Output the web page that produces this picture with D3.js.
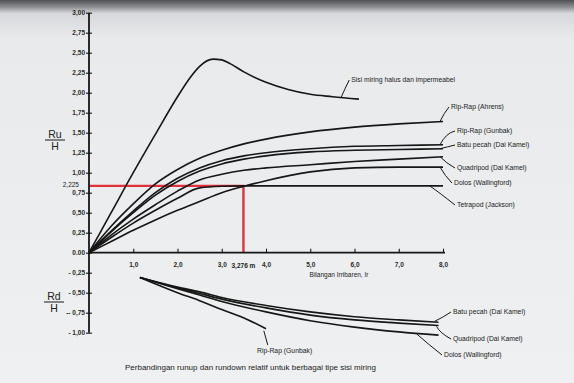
<!DOCTYPE html>
<html>
<head>
<meta charset="utf-8">
<script src="https://cdn.jsdelivr.net/npm/d3@7/dist/d3.min.js"></script>
<style>
  html, body { margin: 0; padding: 0; background: #eceef0; }
  svg { display: block; font-family: "Liberation Sans", Arial, sans-serif; }
</style>
</head>
<body>
<svg id="chart" width="574" height="383"></svg>
<script>
// Iribarren number (x) sample positions shared by the run-up curves
const irUp = [0, 0.5, 1, 1.5, 2, 2.5, 3, 3.5, 4, 5, 6, 7, 8];

// Relative run-up Ru/H for each slope type
const ruAhrens    = [0, 0.33, 0.61, 0.86, 1.04, 1.18, 1.28, 1.36, 1.42, 1.51, 1.57, 1.61, 1.64];
const ruGunbak    = [0, 0.27, 0.52, 0.75, 0.93, 1.06, 1.15, 1.21, 1.25, 1.30, 1.33, 1.34, 1.35];
const ruBatu      = [0, 0.26, 0.50, 0.72, 0.89, 1.02, 1.11, 1.17, 1.21, 1.26, 1.28, 1.29, 1.30];
const ruQuadripod = [0, 0.22, 0.42, 0.60, 0.77, 0.91, 0.98, 1.03, 1.06, 1.10, 1.14, 1.17, 1.20];
const ruTetrapod  = [0, 0.19, 0.37, 0.53, 0.68, 0.81, 0.83, 0.835, 0.835, 0.835, 0.835, 0.835, 0.835];
const ruDolos     = [0, 0.14, 0.28, 0.41, 0.53, 0.64, 0.75, 0.83, 0.90, 1.01, 1.06, 1.07, 1.07];

// Smooth impermeable slope
const irSmooth = [0, 0.5, 1, 1.5, 2, 2.3, 2.5, 2.8, 3.0, 3.2, 3.5, 4, 4.5, 5, 5.5, 6.1];
const ruSmooth = [0, 0.5, 1.0, 1.48, 1.95, 2.2, 2.33, 2.42, 2.41, 2.36, 2.26, 2.13, 2.04, 1.98, 1.95, 1.92];

// Relative run-down Rd/H
const irDown      = [1.15, 2, 2.5, 3, 4, 5, 6, 7, 7.9];
const rdBatu      = [-0.31, -0.43, -0.49, -0.56, -0.66, -0.74, -0.80, -0.84, -0.87];
const rdQuadripod = [-0.31, -0.44, -0.51, -0.58, -0.69, -0.78, -0.84, -0.88, -0.91];
const rdDolos     = [-0.31, -0.45, -0.53, -0.61, -0.74, -0.85, -0.93, -0.99, -1.03];
const irGunbakDown = [1.15, 2, 2.5, 3, 3.6, 4.0];
const rdGunbak     = [-0.31, -0.50, -0.60, -0.71, -0.84, -0.95];

// Reading guide (red)
const readIr = 3.49;
const readRu = 0.835;
const readIrLabel = "3,276 m";
const readRuLabel = "2,225";

// Axis ticks and labels
const yTicks = [-1, -0.75, -0.5, -0.25, 0, 0.25, 0.5, 0.75, 1, 1.25, 1.5, 1.75, 2, 2.25, 2.5, 2.75, 3];
const yTickLabels = ["- 1,00", "-- 0,75", "- 0,50", "- 0,25", "0.00", "0,25", "0,50", "0,75", "1,00", "1,25", "1,50", "1,75", "2,00", "2,25", "2,50", "2,75", "3,00"];
const xTicks = [1, 2, 3, 4, 5, 6, 7, 8];
const xTickLabels = ["1,0", "2,0", "3,0", "4,0", "5,0", "6,0", "7,0", "8,0"];

const svg = d3.select("#chart");

// paper background with a darker photographed top edge
const defs = svg.append("defs");
const bg = defs.append("linearGradient").attr("id", "paper").attr("x1", 0).attr("y1", 0).attr("x2", 0).attr("y2", 1);
bg.append("stop").attr("offset", 0).attr("stop-color", "#4e5054");
bg.append("stop").attr("offset", 0.018).attr("stop-color", "#8c8e92");
bg.append("stop").attr("offset", 0.035).attr("stop-color", "#d6d8db");
bg.append("stop").attr("offset", 0.1).attr("stop-color", "#e8eaec");
bg.append("stop").attr("offset", 1).attr("stop-color", "#eef0f1");
svg.append("rect").attr("width", 574).attr("height", 383).attr("fill", "url(#paper)");

const x = d3.scaleLinear().domain([0, 8]).range([89, 443]);
const y = d3.scaleLinear().domain([-1, 3]).range([332.7, 12.7]);

const ink = "#161616";
const line = d3.line().x(d => x(d[0])).y(d => y(d[1])).curve(d3.curveMonotoneX);
const zip = (xs, ys) => xs.map((v, i) => [v, ys[i]]);

// reading guide lines
svg.append("path")
  .attr("d", `M${x(0)},${y(readRu)}H${x(readIr)}V${y(0)}`)
  .attr("fill", "none").attr("stroke", "#e2323c").attr("stroke-width", 2.4);

const upSeries = [
  { name: "Rip-Rap (Ahrens)", v: ruAhrens },
  { name: "Rip-Rap (Gunbak)", v: ruGunbak },
  { name: "Batu pecah (Dai Kamel)", v: ruBatu },
  { name: "Quadripod (Dai Kamel)", v: ruQuadripod },
  { name: "Tetrapod  (Jackson)", v: ruTetrapod },
  { name: "Dolos  (Wallingford)", v: ruDolos }
];

const curves = svg.append("g").attr("fill", "none").attr("stroke", ink).attr("stroke-width", 1.6);
curves.append("path").attr("d", line(zip(irSmooth, ruSmooth)));
upSeries.forEach(s => curves.append("path").attr("d", line(zip(irUp, s.v))));

const downSeries = [
  { name: "Batu pecah (Dai Kamel)", xs: irDown, v: rdBatu },
  { name: "Quadripod (Dai Kamel)", xs: irDown, v: rdQuadripod },
  { name: "Dolos  (Wallingford)", xs: irDown, v: rdDolos },
  { name: "Rip-Rap (Gunbak)", xs: irGunbakDown, v: rdGunbak }
];
downSeries.forEach(s => curves.append("path").attr("d", line(zip(s.xs, s.v))));

// axes
const yAxis = d3.axisLeft(y).tickValues(yTicks).tickSize(6).tickPadding(0)
  .tickFormat((d, i) => yTickLabels[i]);
const gy = svg.append("g").attr("transform", `translate(${x(0)},0)`).call(yAxis);
gy.select(".domain").attr("stroke", ink).attr("stroke-width", 1.8).attr("d", `M0,${y(3)}V${y(-1)}`);
gy.selectAll(".tick line").attr("x1", 3).attr("x2", -3).attr("stroke", ink).attr("stroke-width", 1.1);
gy.selectAll(".tick text").attr("x", -4).attr("font-size", 6.5).attr("fill", "#2a2a2a")
  .attr("font-weight", "bold").attr("font-family", "Liberation Sans, Arial, sans-serif");

const xAxis = d3.axisBottom(x).tickValues(xTicks).tickSize(-4).tickPadding(10)
  .tickFormat((d, i) => xTickLabels[i]);
const gx = svg.append("g").attr("transform", `translate(0,${y(0)})`).call(xAxis);
gx.select(".domain").attr("stroke", ink).attr("stroke-width", 1.8).attr("d", `M${x(0)},0H${x(8) + 2}`);
gx.selectAll(".tick line").attr("stroke", ink).attr("stroke-width", 1.1);
gx.selectAll(".tick text").attr("font-size", 6.5).attr("fill", "#2a2a2a")
  .attr("font-weight", "bold").attr("font-family", "Liberation Sans, Arial, sans-serif");

const txt = (tx, ty, s, size, anchor) => svg.append("text")
  .attr("x", tx).attr("y", ty).attr("font-size", size || 6.5).attr("fill", "#222")
  .attr("text-anchor", anchor || "start").text(s);

// reading guide labels
txt(x(readIr), y(0) + 15, readIrLabel, 6.5, "middle").attr("font-weight", "bold");
txt(x(0) - 10, y(readRu) + 1, readRuLabel, 6.5, "end");

// axis title
txt(x(5.65), y(0) + 24, "Bilangan Irribaren, Ir", 6.5, "middle");

// Ru/H and Rd/H fractions
const frac = (cx, cy, top) => {
  txt(cx, cy - 2.5, top, 10.5, "middle");
  svg.append("line").attr("x1", cx - 10).attr("x2", cx + 10).attr("y1", cy).attr("y2", cy)
    .attr("stroke", ink).attr("stroke-width", 1);
  txt(cx, cy + 9.5, "H", 10.5, "middle");
};
frac(55, 140, "Ru");
frac(54, 302, "Rd");

// leader lines and labels
const lead = svg.append("g").attr("fill", "none").attr("stroke", ink).attr("stroke-width", 1);
const label = (px, py, lx, ly, s, cx, cy) => {
  lead.append("path").attr("d", `M${lx},${ly}Q${cx},${cy} ${px},${py}`);
  txt(lx + 2, ly + 2, s, 6.8);
};

const endUp = v => [x(8) - 3, y(v[v.length - 1])];
let p;
p = [x(5.7), y(1.945)];
label(p[0], p[1], p[0] + 8, 80, "Sisi miring halus dan impermeabel", p[0] + 4, 88);
p = endUp(ruAhrens);
label(p[0], p[1], 449, 107, "Rip-Rap (Ahrens)", 444, 113);
p = endUp(ruGunbak);
label(p[0], p[1], 455, 131, "Rip-Rap (Gunbak)", 446, 133);
p = endUp(ruBatu);
label(p[0], p[1], 455, 145, "Batu pecah (Dai Kamel)", 447, 147);
p = endUp(ruQuadripod);
label(p[0], p[1], 455, 168, "Quadripod (Dai Kamel)", 446, 163);
p = endUp(ruDolos);
label(p[0], p[1], 452, 183, "Dolos  (Wallingford)", 445, 176);
p = [x(7.7), y(ruTetrapod[ruTetrapod.length - 1])];
label(p[0], p[1], 455, 205, "Tetrapod  (Jackson)", 440, 193);

// run-down labels
const endDn = s => [x(s.xs[s.xs.length - 1]) - 4, y(s.v[s.v.length - 1])];
p = endDn(downSeries[0]);
label(p[0], p[1] - 1, 451, 312, "Batu pecah (Dai Kamel)", 442, 318);
p = endDn(downSeries[1]);
label(p[0] + 2, p[1] + 1, 451, 339, "Quadripod (Dai Kamel)", 440, 333);
p = [x(7.4), y(-1.0)];
label(p[0], p[1] + 1, 442, 355, "Dolos  (Wallingford)", 428, 344);
p = [x(3.95), y(-0.95) + 2];
lead.append("path").attr("d", `M${p[0] + 4},${345}L${p[0]},${p[1]}`);
txt(257, 353, "Rip-Rap (Gunbak)", 6.8);

// caption
txt(125, 370, "Perbandingan runup dan rundown relatif untuk berbagai tipe sisi miring", 8);
</script>
</body>
</html>
